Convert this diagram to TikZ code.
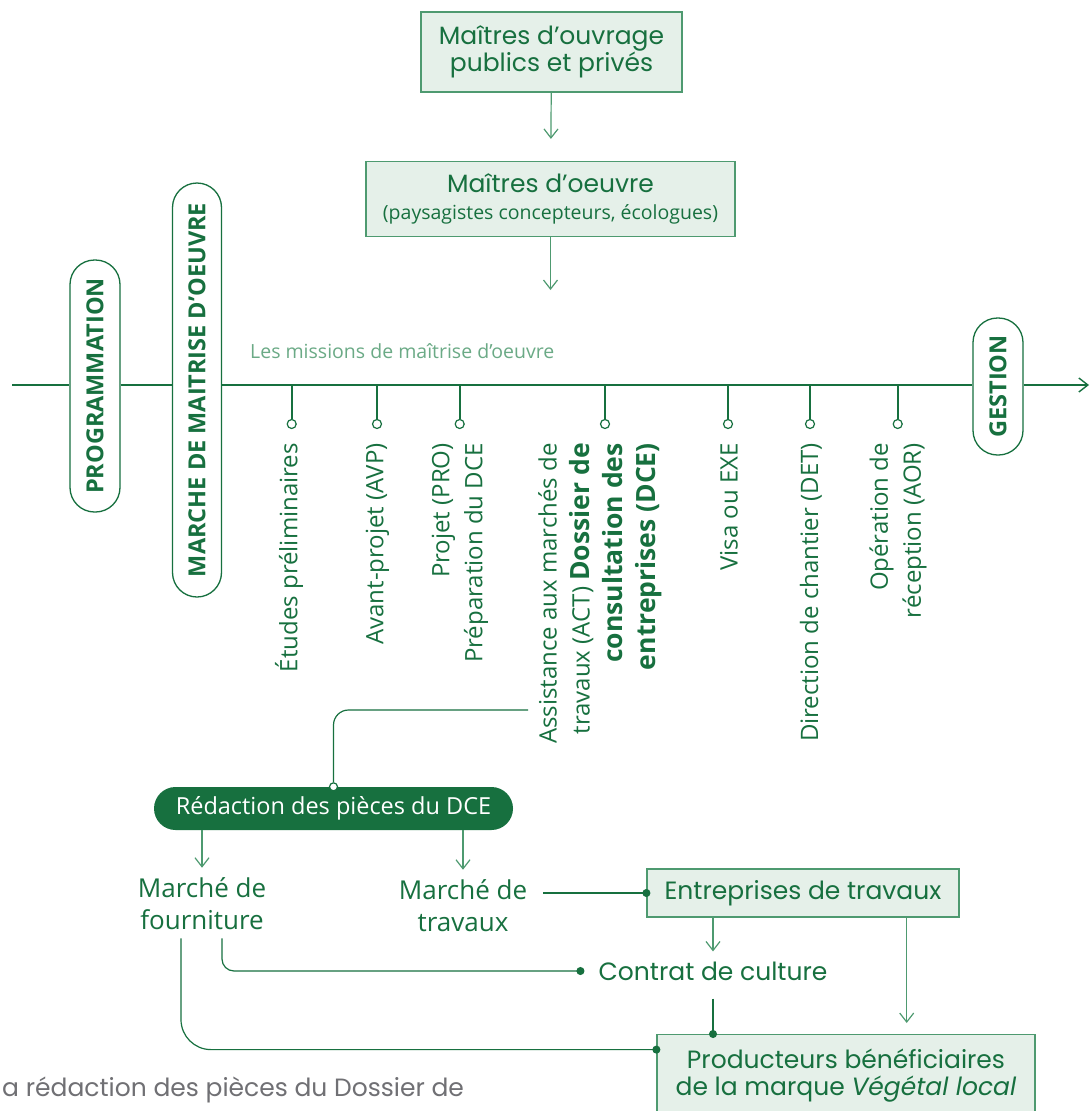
\documentclass[tikz,border=0pt]{standalone}
\usepackage{fontspec}
\setmainfont{Open Sans}
\newfontfamily\pop{Poppins}
\usetikzlibrary{arrows.meta}
\definecolor{dkg}{HTML}{17703F}
\definecolor{mdg}{HTML}{4E9A70}
\definecolor{bfill}{HTML}{E5F0E9}
\definecolor{ltg}{HTML}{6BAA86}
\definecolor{gry}{HTML}{707074}
\begin{document}
\begin{tikzpicture}[x=1pt,y=-1pt,
  box/.style={draw=mdg, line width=1.2pt, fill=bfill, text=dkg, font=\pop\fontsize{25}{27}\selectfont, align=center, inner sep=0pt},
  pill/.style={draw=dkg, line width=1.3pt, fill=white, rounded corners=24.5pt, rotate=90, text=dkg, font=\bfseries\fontsize{23.5}{26}\selectfont, inner sep=0pt, minimum height=50pt},
  arr/.style={draw=mdg, line width=1.2pt, -{Straight Barb[length=9pt,width=14pt]}},
  tl/.style={draw=dkg, line width=1.4pt},
  tick/.style={draw=dkg, line width=1.6pt},
  conn/.style={draw=dkg, line width=1.2pt},
  dotend/.style={-{Circle[length=8pt]}, shorten >=-4pt},
  dotopen/.style={circle, draw=dkg, fill=white, line width=1.2pt, minimum size=9pt, inner sep=0pt},
  lab/.style={rotate=90, anchor=east, align=right, inner sep=0pt, text=dkg, font=\fontsize{24}{33}\selectfont},
  bfl/.style={font=\bfseries\fontsize{26.5}{33}\selectfont},
  mtext/.style={text=dkg, align=center, inner sep=0pt, font=\fontsize{26}{32}\selectfont},
  ptext/.style={text=dkg, inner sep=0pt, align=center, font=\pop\fontsize{25}{27}\selectfont}
]
\useasboundingbox (0,0) rectangle (1090,1111);
\clip (0,0) rectangle (1090,1111);
\fill[white] (0,0) rectangle (1090,1111);

% top boxes
\node[box, minimum width=261pt, minimum height=80pt] (mo) at (551.5,52) {Maîtres d’ouvrage\\publics et privés};
\node[box, minimum width=369pt, minimum height=75pt] (moe) at (550.5,199) {Maîtres d’oeuvre\\{\rmfamily\fontsize{19.5}{24}\selectfont (paysagistes concepteurs, écologues)}};
\coordinate (moeend) at (550.5,290);
\draw[arr, shorten >=22pt] (mo) -- (moe);
\draw[arr] (moe) -- (moeend);

% timeline pills
\node[pill, minimum width=252pt] (prog) at (95,386) {PROGRAMMATION};
\node[pill, minimum width=414pt, minimum height=49pt] (marche) at (197,390) {MARCHE DE MAITRISE D’OEUVRE};
\node[pill, minimum width=137pt] (ges) at (998,386.5) {GESTION};
\coordinate (tls) at (12,385);
\coordinate (tle) at (1089,385);
\draw[tl] (tls) -- (tls -| prog.north);
\draw[tl] (tls -| prog.south) -- (tls -| marche.north);
\draw[tl] (tls -| marche.south) -- (tls -| ges.north);
\draw[tl, -{Straight Barb[length=9pt,width=14pt]}] (tls -| ges.south) -- (tle);

\node[anchor=base west, inner sep=0pt, text=ltg, font=\fontsize{19.5}{24}\selectfont] (miss) at (250,358) {Les missions de maîtrise d’oeuvre};

% ticks
\foreach \i/\x in {1/291.7,2/377,3/459.7,4/605,5/728,6/810,7/897.7}{
  \coordinate (tk\i) at (\x,385);
  \node[dotopen] (c\i) at (\x,424) {};
  \draw[tick] (tk\i) -- (c\i);
}

% labels
\node[lab] (l1) at (289,443) {Études préliminaires};
\node[lab] (l2) at (377.5,443) {Avant-projet (AVP)};
\node[lab] (l3) at (460,443) {Projet (PRO)\\Préparation du DCE};
\node[lab] (l4) at (600,443) {Assistance aux marchés de\\travaux (ACT) {\bfseries\fontsize{26.5}{33}\selectfont Dossier de}\\{\bfseries\fontsize{26.5}{33}\selectfont consultation des}\\{\bfseries\fontsize{26.5}{33}\selectfont entreprises (DCE)}};
\node[lab] (l5) at (729,443) {Visa ou EXE};
\node[lab] (l6) at (811,443) {Direction de chantier (DET)};
\node[lab] (l7) at (898,443) {Opération de\\réception (AOR)};

% redaction
\node[fill=dkg, text=white, rounded corners=21.5pt, minimum width=359pt, minimum height=43pt, inner sep=0pt, font=\fontsize{23.5}{28}\selectfont] (red) at (333.5,808.5) {Rédaction des pièces du DCE};
\node[dotopen, minimum size=8pt] (rc) at (red.north) {};
\coordinate (actj) at (528,710);
\draw[conn, rounded corners=15pt] (actj) -| (rc.north);

% marches
\node[mtext] (mf) at (202,904) {Marché de\\fourniture};
\node[mtext] (mt) at (463,906) {Marché de\\travaux};
\draw[arr, shorten >=10pt] (mf.north |- red.south) -- (mf.north);
\draw[arr, shorten >=10pt] (mt.north |- red.south) -- (mt.north);

% entreprises
\node[box, minimum width=312pt, minimum height=48pt] (ent) at (803,893) {Entreprises de travaux};
\draw[conn, shorten <=16pt, dotend] (mt.east |- ent.west) -- (ent.west);

% contrat
\node[ptext] (cc) at (713,971) {Contrat de culture};
\draw[arr, shorten >=10pt] (ent.south -| cc.north) -- (cc.north);

% producteurs
\node[box, minimum width=378pt, minimum height=100pt, anchor=north] (prod) at (846,1034) {};
\node[ptext] (prodt) at (846,1075.5) {Producteurs bénéficiaires\\de la marque \textit{Végétal local}};
\draw[conn, shorten <=18pt, dotend] (cc.south) -- (cc.south |- prod.north);
\draw[arr, shorten >=11pt] ([xshift=103.7pt]ent.south) -- ([xshift=103.7pt]ent.south |- prod.north);

\draw[conn, rounded corners=12pt, dotend, shorten <=8pt] ([xshift=20pt]mf.south) |- ([xshift=-18pt]cc.west);
\draw[conn, rounded corners=30pt, dotend, shorten <=8pt] ([xshift=-21pt]mf.south) |- ([yshift=35pt]prod.west);

% footnote
\node[anchor=base west, inner sep=0pt, text=gry, font=\pop\fontsize{25}{27}\selectfont] (foot) at (2,1096) {a rédaction des pièces du Dossier de};
\end{tikzpicture}
\end{document}
